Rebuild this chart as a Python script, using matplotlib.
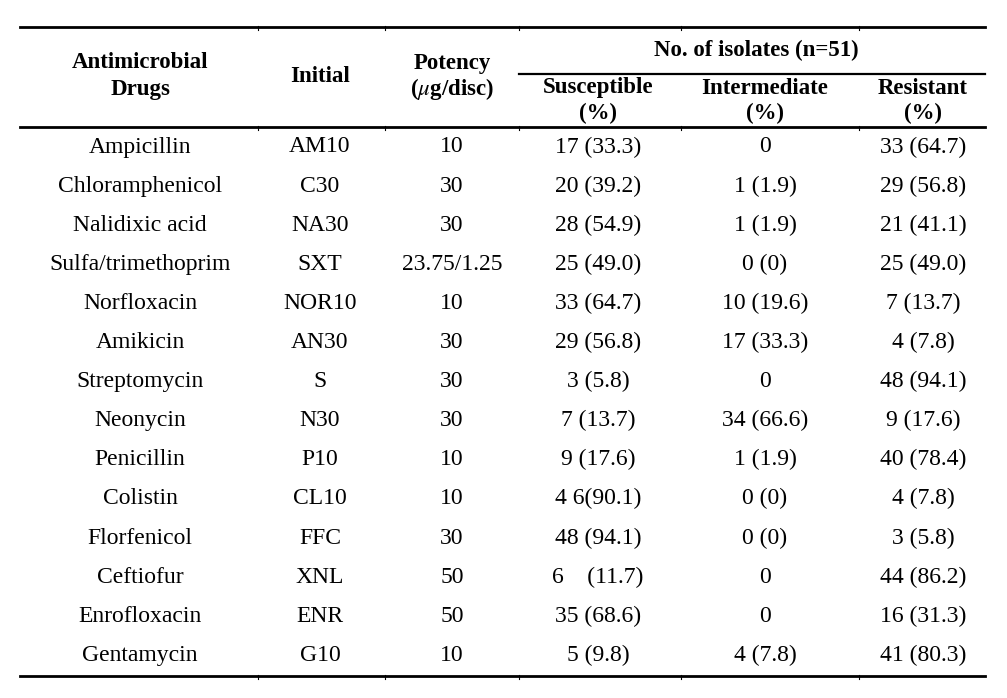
import matplotlib
matplotlib.use("Agg")
import matplotlib.pyplot as plt

plt.rcParams['font.family'] = ['Liberation Serif', 'DejaVu Serif']
plt.rcParams['mathtext.fontset'] = 'stix'

drugs = ["Ampicillin", "Chloramphenicol", "Nalidixic acid", "Sulfa/trimethoprim",
         "Norfloxacin", "Amikicin", "Streptomycin", "Neonycin", "Penicillin",
         "Colistin", "Florfenicol", "Ceftiofur", "Enrofloxacin", "Gentamycin"]
initials = ["AM10", "C30", "NA30", "SXT", "NOR10", "AN30", "S", "N30", "P10",
            "CL10", "FFC", "XNL", "ENR", "G10"]
potency = ["10", "30", "30", "23.75/1.25", "10", "30", "30", "30", "10",
           "10", "30", "50", "50", "10"]
susceptible = ["17 (33.3)", "20 (39.2)", "28 (54.9)", "25 (49.0)", "33 (64.7)",
               "29 (56.8)", "3 (5.8)", "7 (13.7)", "9 (17.6)", "4 6(90.1)",
               "48 (94.1)", "6    (11.7)", "35 (68.6)", "5 (9.8)"]
intermediate = ["0", "1 (1.9)", "1 (1.9)", "0 (0)", "10 (19.6)", "17 (33.3)",
                "0", "34 (66.6)", "1 (1.9)", "0 (0)", "0 (0)", "0", "0", "4 (7.8)"]
resistant = ["33 (64.7)", "29 (56.8)", "21 (41.1)", "25 (49.0)", "7 (13.7)",
             "4 (7.8)", "48 (94.1)", "9 (17.6)", "40 (78.4)", "4 (7.8)",
             "3 (5.8)", "44 (86.2)", "16 (31.3)", "41 (80.3)"]

W, H = 1007, 698
fig = plt.figure(figsize=(W / 100, H / 100), dpi=100)
ax = fig.add_axes([0, 0, 1, 1])
ax.set_xlim(0, W)
ax.set_ylim(H, 0)
ax.axis('off')

col_x = [140, 320, 452, 598, 765, 923]
bounds = [258, 385, 519, 681, 859]
x0, x1 = 20, 985

# horizontal rules
ax.plot([x0, x1], [27, 27], color='black', lw=2)
ax.plot([519, x1], [74, 74], color='black', lw=1.6)
ax.plot([x0, x1], [127, 127], color='black', lw=2)
ax.plot([x0, x1], [676, 676], color='black', lw=2)
for b in bounds:
    for yy in (27, 127, 676):
        ax.plot([b, b], [yy - 1, yy + 3], color='black', lw=0.8)

hfs = 16.5
bfs = 17
hdr = dict(ha='center', va='center', fontsize=hfs, fontweight='bold')
ax.text(col_x[0], 63, "Antimicrobial", **hdr)
ax.text(col_x[0], 89, "Drugs", **hdr)
ax.text(col_x[1], 77, "Initial", **hdr)
ax.text(col_x[2], 63, "Potency", **hdr)
ax.text(col_x[2], 89, r"($\mu$g/disc)", **hdr)
ax.text(756, 50, "No. of isolates (n=51)", **hdr)
for cx, name in zip(col_x[3:], ["Susceptible", "Intermediate", "Resistant"]):
    ax.text(cx, 88, name, **hdr)
    ax.text(cx, 113, "(%)", **hdr)

row_y0, row_dy = 147, 39.1
columns = [drugs, initials, potency, susceptible, intermediate, resistant]
for i in range(len(drugs)):
    y = row_y0 + i * row_dy
    for cx, col in zip(col_x, columns):
        ax.text(cx, y, col[i], ha='center', va='center', fontsize=bfs)

fig.savefig("out.png", dpi=100)
